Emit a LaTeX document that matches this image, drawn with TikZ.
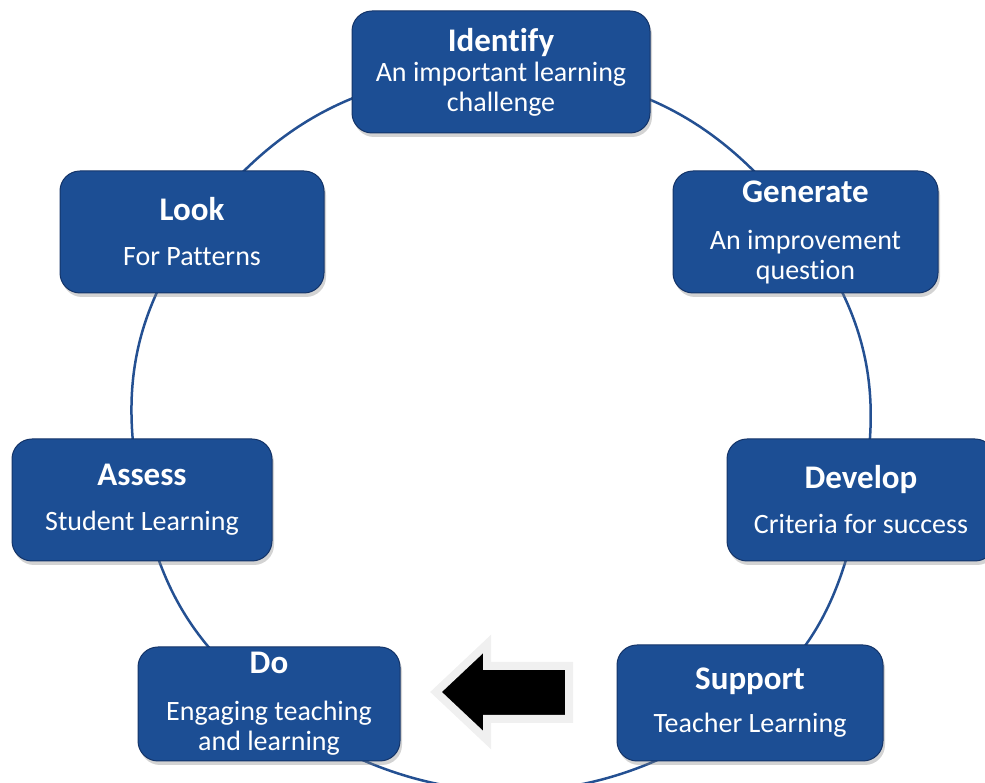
\documentclass[tikz,border=0pt]{standalone}
\usepackage{fontspec}
\setmainfont{Carlito}[Ligatures=NoCommon]
\usetikzlibrary{shadows,backgrounds}
\definecolor{boxblue}{RGB}{28,78,148}
\definecolor{boxrim}{RGB}{20,52,104}
\definecolor{ringblue}{RGB}{36,80,146}
\colorlet{rimgray}{gray!12}
\newcommand{\headfont}{\fontsize{33}{36}\selectfont\bfseries}
\newcommand{\bodyfont}{\fontsize{28}{30}\selectfont}
\tikzset{
    phase/.style={rectangle, rounded corners=20pt, fill=boxblue, draw=boxrim,
        line width=1pt, text=white, align=center, font=\bodyfont,
        minimum height=122pt, minimum width=264pt, inner sep=0pt,
        drop shadow={shadow xshift=2pt, shadow yshift=-4pt, opacity=0.35}},
    ring/.style={ringblue, line width=2.5pt},
    back/.style={fill=black, draw=rimgray, line width=8pt, line join=miter}
}

\begin{document}
\begin{tikzpicture}[x=1pt,y=1pt]
\useasboundingbox (0,0) rectangle (985,783);

\node[phase,minimum width=298pt] (identify) at (501,711) {{\headfont Identify}\\An important learning\\challenge};
\node[phase,minimum width=265pt] (generate) at (805.5,551) {{\headfont Generate}\\[17pt]An improvement\\question};
\node[phase,minimum width=268pt] (develop) at (861,283) {{\headfont Develop}\\[15pt]Criteria for success};
\node[phase,minimum width=266pt,minimum height=116pt] (support) at (750,80) {{\headfont Support}\\[13pt]Teacher Learning};
\node[phase,minimum width=262pt,minimum height=114pt] (do) at (269,79) {{\headfont Do}\\[17pt]Engaging teaching\\and learning};
\node[phase,minimum width=260pt] (assess) at (142,283) {{\headfont Assess}\\[15pt]Student Learning};
\node[phase] (look) at (192,551) {{\headfont Look}\\[15pt]For Patterns};

% the ring behind the boxes
\begin{scope}[on background layer]
\draw[ring] (identify.center) to[out=0,in=126] (generate.center);
\draw[ring] (generate.center) to[out=-54,in=78] (develop.center);
\draw[ring] (develop.center) to[out=-102,in=39] (support.center);
\draw[ring] (support.center) to[out=-141,in=-38] (do.center);
\draw[ring] (do.center) to[out=142,in=-78] (assess.center);
\draw[ring] (assess.center) to[out=102,in=-125] (look.center);
\draw[ring] (look.center) to[out=54,in=180] (identify.center);
\end{scope}

% block arrow
\draw[back] (436,91) -- (487,139) -- (487,117) -- (569,117) -- (569,64) -- (487,64) -- (487,43) -- cycle;
\end{tikzpicture}
\end{document}
